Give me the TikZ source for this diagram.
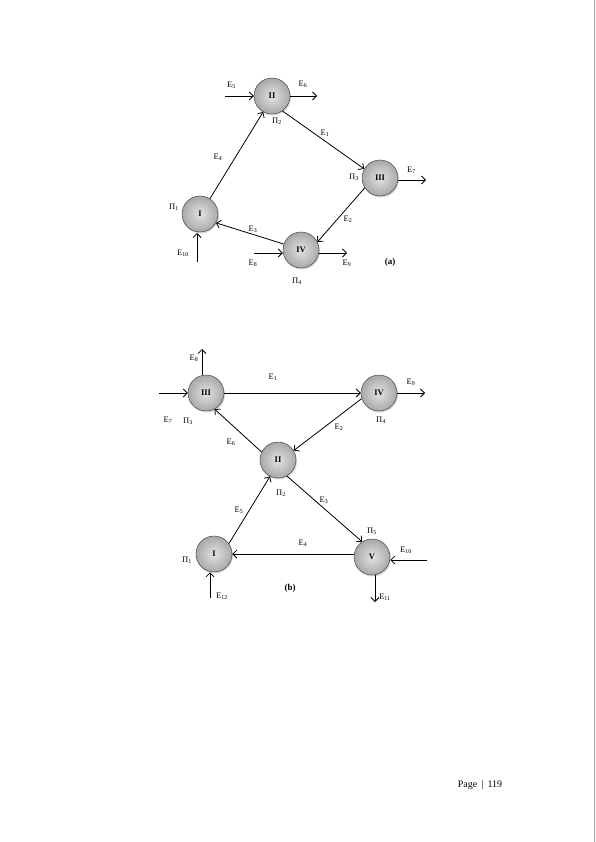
\documentclass[tikz,border=0pt]{standalone}
\usepackage{fontspec}
\setmainfont{Liberation Serif}
\usetikzlibrary{shadows,arrows.meta}
\begin{document}
\begin{tikzpicture}[x=1pt,y=-1pt,
  ball/.style={circle,minimum size=36pt,inner sep=0pt,shading=radial,inner color=gray!22,outer color=gray!68,draw=gray!55!black,line width=0.5pt,
    drop shadow={shadow xshift=1pt,shadow yshift=-1.5pt,opacity=0.3},font=\fontsize{8.5}{9}\selectfont\bfseries},
  lbl/.style={inner sep=0pt,font=\fontsize{8.5}{9}\selectfont},
  arr/.style={-{Straight Barb[length=4pt,width=8pt,line width=0.8pt]},line width=0.8pt}]
\useasboundingbox (0,0) rectangle (595,842);
\fill[white] (0,0) rectangle (595,842);
\draw[gray!70,line width=1pt] (594,0) -- (594,842);
% ---------- (a) ----------
\node[ball] (aII) at (272,96) {II};
\node[ball] (aIII) at (380,178) {III};
\node[ball] (aI) at (200,214) {I};
\node[ball] (aIV) at (301,250) {IV};
\coordinate (a5s) at (225,96);
\coordinate (a6e) at (317,96);
\coordinate (a7e) at (426,180);
\coordinate (a10s) at (197,262);
\coordinate (a10e) at (197,233);
\coordinate (a8s) at (254,253);
\coordinate (a9e) at (347,253);
\draw[arr] (a5s) -- (aII.west);
\draw[arr] (aII.east) -- (a6e);
\draw[arr] (aII.-55) -- (aIII.150);
\draw[arr] (aIII.east |- a7e) -- (a7e);
\draw[arr] (aIII.-147) -- (aIV.26);
\draw[arr] (aIV.161) -- (aI.-29);
\draw[arr] (aI.57) -- (aII.-119);
\draw[arr] (a10s) -- (a10e);
\draw[arr] (a8s) -- (aIV.west |- a8s);
\draw[arr] (aIV.east |- a9e) -- (a9e);
\node[lbl] (la5) at (231.5,85) {E\textsubscript{5}};
\node[lbl] (la6) at (303,84) {E\textsubscript{6}};
\node[lbl] (lp2) at (277,121) {Π\textsubscript{2}};
\node[lbl] (la1) at (325,133) {E\textsubscript{1}};
\node[lbl] (lp3) at (354,177) {Π\textsubscript{3}};
\node[lbl] (la7) at (411.5,170) {E\textsubscript{7}};
\node[lbl] (la2) at (348,219) {E\textsubscript{2}};
\node[lbl] (lp1) at (174,207) {Π\textsubscript{1}};
\node[lbl] (la4) at (218,157) {E\textsubscript{4}};
\node[lbl] (la10) at (183,253) {E\textsubscript{10}};
\node[lbl] (la3) at (253,229) {E\textsubscript{3}};
\node[lbl] (la8) at (253,263) {E\textsubscript{8}};
\node[lbl] (la9) at (347,263) {E\textsubscript{9}};
\node[lbl] (lp4) at (297,281) {Π\textsubscript{4}};
\node[lbl,font=\fontsize{9}{10}\selectfont\bfseries] (lca) at (390,262) {(a)};
% ---------- (b) ----------
\node[ball] (bIII) at (206,393) {III};
\node[ball] (bIV) at (379,393) {IV};
\node[ball] (bII) at (278,460) {II};
\node[ball] (bI) at (214,554) {I};
\node[ball] (bV) at (372,557) {V};
\coordinate (b8e) at (202,349);
\coordinate (b7s) at (159,393);
\coordinate (b9e) at (425,393);
\coordinate (b10s) at (427,560);
\coordinate (b11e) at (375,602);
\coordinate (b12s) at (210,598);
\draw[arr] (bIII.north -| b8e) -- (b8e);
\draw[arr] (b7s) -- (bIII.west |- b7s);
\draw[arr] (bIII) -- (bIV);
\draw[arr] (bIV.east) -- (b9e);
\draw[arr] (bIV.-162) -- (bII.31);
\draw[arr] (bII.154) -- (bIII.-62);
\draw[arr] (bII.-61) -- (bV.123);
\draw[arr] (bV.west |- bI) -- (bI.east);
\draw[arr] (bI.35) -- (bII.-116);
\draw[arr] (b10s) -- (bV.east |- b10s);
\draw[arr] (bV.south -| b11e) -- (b11e);
\draw[arr] (b12s) -- (bI.south -| b12s);
\node[lbl] (lb8) at (194,358) {E\textsubscript{8}};
\node[lbl] (lb7) at (168,420) {E\textsubscript{7}};
\node[lbl] (lq3) at (188,421) {Π\textsubscript{3}};
\node[lbl] (lb1) at (273,377) {E\textsubscript{1}};
\node[lbl] (lb9) at (411,382) {E\textsubscript{9}};
\node[lbl] (lq4) at (381,420) {Π\textsubscript{4}};
\node[lbl] (lb2) at (339,427) {E\textsubscript{2}};
\node[lbl] (lb6) at (231,442) {E\textsubscript{6}};
\node[lbl] (lq2) at (281,493) {Π\textsubscript{2}};
\node[lbl] (lb3) at (324,500) {E\textsubscript{3}};
\node[lbl] (lb5) at (239,510) {E\textsubscript{5}};
\node[lbl] (lq5) at (372,531) {Π\textsubscript{5}};
\node[lbl] (lb4) at (303,543) {E\textsubscript{4}};
\node[lbl] (lq1) at (187,560) {Π\textsubscript{1}};
\node[lbl] (lb10) at (406,550) {E\textsubscript{10}};
\node[lbl] (lb11) at (385,597) {E\textsubscript{11}};
\node[lbl] (lb12) at (222,596) {E\textsubscript{12}};
\node[lbl,font=\fontsize{9}{10}\selectfont\bfseries] (lcb) at (290,588) {(b)};
% ---------- footer ----------
\node[lbl,font=\fontsize{10}{12}\selectfont] (page) at (480,785) {Page \,|\, 119};
\end{tikzpicture}
\end{document}
